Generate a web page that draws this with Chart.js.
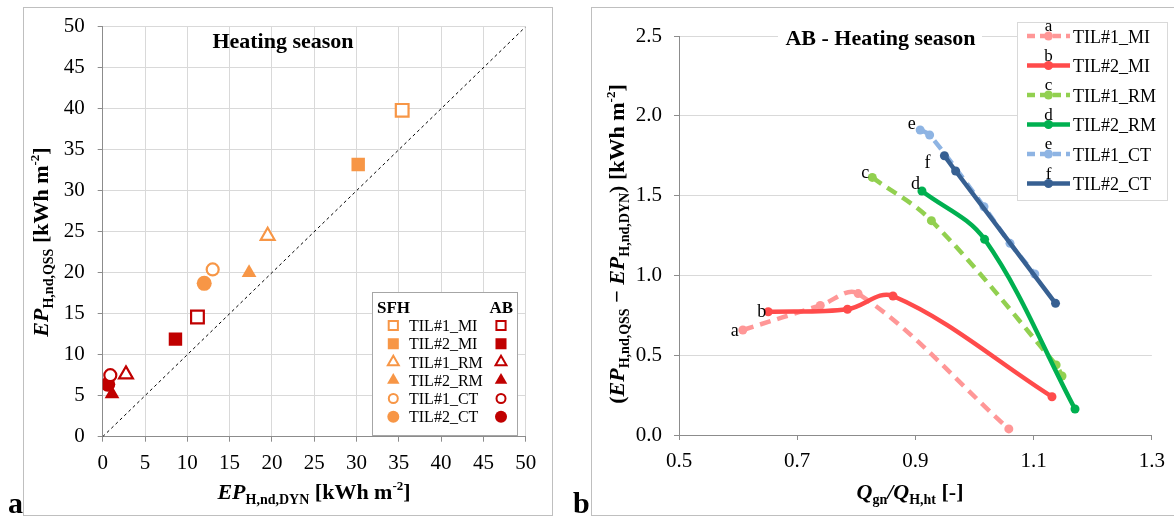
<!DOCTYPE html>
<html>
<head>
<meta charset="utf-8">
<script src="https://cdn.jsdelivr.net/npm/chart.js@4.4.1/dist/chart.umd.min.js"></script>
<style>
body{margin:0;background:#fff;width:1174px;height:517px;overflow:hidden;position:relative}
.box{position:absolute;border:1px solid #BFBFBF}
#boxA{left:23px;top:7px;width:528px;height:507px}
#boxB{left:591px;top:7px;width:600px;height:507px}
canvas{position:absolute;top:0}
#cA{left:0}
#cB{left:560px}
</style>
</head>
<body>
<div class="box" id="boxA"></div>
<div class="box" id="boxB"></div>
<canvas id="cA" width="560" height="517"></canvas>
<canvas id="cB" width="614" height="517"></canvas>
<script>
// ---- chart a : QSS vs DYN ----
var seriesNames = ['TIL#1_MI', 'TIL#2_MI', 'TIL#1_RM', 'TIL#2_RM', 'TIL#1_CT', 'TIL#2_CT'];
var sfhX = [35.4, 30.2, 19.5, 17.3, 13.0, 12.0];
var sfhY = [39.8, 33.2, 24.5, 20.0, 20.4, 18.7];
var abX = [11.2, 8.6, 2.75, 1.1, 0.9, 0.6];
var abY = [14.6, 11.9, 7.6, 5.2, 7.5, 6.4];
var diagX = [0, 50];
var diagY = [0, 50];

// ---- chart b : difference vs gain/loss ratio ----
var lineLetters = ['a', 'b', 'c', 'd', 'e', 'f'];
var tilX = [
  [0.608, 0.739, 0.803, 1.058],
  [0.651, 0.785, 0.862, 1.131],
  [0.827, 0.927, 1.138, 1.148],
  [0.911, 1.017, 1.170],
  [0.908, 0.924, 1.016, 1.060, 1.102],
  [0.949, 0.968, 1.137]
];
var tilY = [
  [0.658, 0.812, 0.886, 0.038],
  [0.772, 0.788, 0.871, 0.240],
  [1.614, 1.343, 0.439, 0.370],
  [1.529, 1.226, 0.163],
  [1.911, 1.880, 1.430, 1.201, 1.009],
  [1.750, 1.654, 0.825]
];
var xTicksB = [0.5, 0.7, 0.9, 1.1, 1.3];

var FONT = '"Liberation Serif"';
var SFH_COL = '#F79646';
var AB_COL = '#C00000';
var lineCols = ['#FF9797', '#FF4B4B', '#92D050', '#00B050', '#8EB4E3', '#376092'];
var dashed = [true, false, true, false, true, false];
var shapes = ['rect', 'rect', 'triangle', 'triangle', 'circle', 'circle'];
var filledFlags = [false, true, false, true, false, true];
var plotR = [9, 9.5, 8, 8.5, 6, 7.5];
var legR = [6.5, 7.8, 6.3, 7.2, 4.5, 6];
// label offset: [right edge dx, baseline dy] from first point
var letterOff = [[-4, 6], [-2, 5], [-3, 1], [-2, -2], [-4.5, -1], [-14, 12]];

Chart.defaults.font.family = FONT;
Chart.defaults.color = '#000';

function drawRich(ctx, parts, x, y, rot) {
  ctx.save();
  ctx.translate(x, y);
  ctx.rotate(rot);
  ctx.textAlign = 'left';
  ctx.textBaseline = 'alphabetic';
  var total = 0;
  parts.forEach(function (p) { ctx.font = p.f; p.w = ctx.measureText(p.t).width; total += p.w; });
  var cx = -total / 2;
  parts.forEach(function (p) { ctx.font = p.f; ctx.fillText(p.t, cx, p.dy || 0); cx += p.w; });
  ctx.restore();
}
var B22 = 'bold 22px ' + FONT, BI22 = 'italic bold 22px ' + FONT, B14 = 'bold 14px ' + FONT, B13 = 'bold 13px ' + FONT;
function ep(sub) { return [{t: 'EP', f: BI22}, {t: sub, f: B14, dy: 5}]; }
var unit = [{t: ' [kWh m', f: B22}, {t: '-2', f: B13, dy: -9}, {t: ']', f: B22}];

function marker(ctx, style, filled, color, x, y, r, bw) {
  ctx.beginPath();
  if (style === 'rect') {
    var s = r * Math.SQRT1_2;
    ctx.rect(x - s, y - s, 2 * s, 2 * s);
  } else if (style === 'triangle') {
    for (var k = 0; k < 3; k++) {
      var a = k * 2 * Math.PI / 3;
      if (k == 0) ctx.moveTo(x + Math.sin(a) * r, y - Math.cos(a) * r);
      else ctx.lineTo(x + Math.sin(a) * r, y - Math.cos(a) * r);
    }
    ctx.closePath();
  } else {
    ctx.arc(x, y, r, 0, 2 * Math.PI);
  }
  if (filled) { ctx.fillStyle = color; ctx.fill(); }
  else { ctx.fillStyle = '#fff'; ctx.fill(); ctx.lineWidth = bw; ctx.strokeStyle = color; ctx.stroke(); }
}

function pointDs(label, x, y, i, color) {
  var filled = filledFlags[i];
  return {
    label: label, data: [{x: x, y: y}],
    pointStyle: shapes[i], pointRadius: plotR[i], pointHoverRadius: plotR[i],
    backgroundColor: filled ? color : '#fff', borderColor: color,
    borderWidth: filled ? 0 : 2.2, showLine: false
  };
}

var dsA = [{
  label: 'diag', data: diagX.map(function (v, i) { return {x: v, y: diagY[i]}; }),
  showLine: true, borderColor: '#000', borderWidth: 1, borderDash: [3, 3], pointRadius: 0, order: 100
}];
seriesNames.forEach(function (n, i) { dsA.push(pointDs('SFH ' + n, sfhX[i], sfhY[i], i, SFH_COL)); });
seriesNames.forEach(function (n, i) { dsA.push(pointDs('AB ' + n, abX[i], abY[i], i, AB_COL)); });

var decorA = {
  id: 'decorA',
  afterDraw: function (chart) {
    var ctx = chart.ctx;
    ctx.save();
    ctx.fillStyle = '#000';
    ctx.textAlign = 'center';
    ctx.textBaseline = 'alphabetic';
    ctx.font = B22;
    ctx.fillText('Heating season', 283, 48);
    drawRich(ctx, ep('H,nd,DYN').concat(unit), 314, 499, 0);
    drawRich(ctx, ep('H,nd,QSS').concat(unit), 48, 242, -Math.PI / 2);

    // legend
    ctx.fillStyle = '#fff';
    ctx.fillRect(372.5, 292.5, 145, 143);
    ctx.strokeStyle = '#A6A6A6';
    ctx.lineWidth = 1;
    ctx.strokeRect(372.5, 292.5, 145, 143);
    ctx.fillStyle = '#000';
    ctx.font = 'bold 17px ' + FONT;
    ctx.textAlign = 'left';
    ctx.fillText('SFH', 377, 313);
    ctx.textAlign = 'right';
    ctx.fillText('AB', 513, 313);
    for (var i = 0; i < seriesNames.length; i++) {
      var y = 325.5 + i * 18.25;
      marker(ctx, shapes[i], filledFlags[i], SFH_COL, 393.3, y, legR[i], 2);
      marker(ctx, shapes[i], filledFlags[i], AB_COL, 501, y, legR[i], 2);
      ctx.fillStyle = '#000';
      ctx.font = '16px ' + FONT;
      ctx.textAlign = 'left';
      ctx.fillText(seriesNames[i], 409, y + 5.5);
    }
    ctx.font = 'bold 30px ' + FONT;
    ctx.textAlign = 'left';
    ctx.fillText('a', 8, 513);
    ctx.restore();
  }
};

new Chart(document.getElementById('cA'), {
  type: 'scatter',
  data: {datasets: dsA},
  options: {
    responsive: false, animation: false, devicePixelRatio: 1,
    layout: {padding: {top: 26.7, right: 34.3, bottom: 0, left: 0}},
    plugins: {legend: {display: false}, tooltip: {enabled: false}},
    scales: {
      x: {
        type: 'linear', min: 0, max: 50,
        ticks: {stepSize: 5, font: {size: 21}, color: '#000', padding: 9, maxRotation: 0, autoSkip: false},
        grid: {color: '#D9D9D9', tickColor: '#8C8C8C', tickLength: 5},
        border: {color: '#8C8C8C'},
        afterFit: function (s) { s.height = 80.3; }
      },
      y: {
        type: 'linear', min: 0, max: 50,
        ticks: {stepSize: 5, font: {size: 21}, color: '#000', padding: 13, autoSkip: false},
        grid: {color: '#D9D9D9', tickColor: '#8C8C8C', tickLength: 5},
        border: {color: '#8C8C8C'},
        afterFit: function (s) { s.width = 102.7; }
      }
    }
  },
  plugins: [decorA]
});

// ---- chart b ----
var dsB = seriesNames.map(function (n, i) {
  return {
    label: n,
    data: tilX[i].map(function (v, k) { return {x: v, y: tilY[i][k]}; }),
    showLine: true, tension: 0.35,
    borderColor: lineCols[i], backgroundColor: lineCols[i],
    borderWidth: 4.5, borderDash: dashed[i] ? [11, 7] : [],
    pointRadius: 4.5, pointHoverRadius: 4.5, pointBorderWidth: 0,
    order: seriesNames.length - i
  };
});

var decorB = {
  id: 'decorB',
  afterDatasetsDraw: function (chart) {
    var ctx = chart.ctx;
    ctx.save();
    ctx.fillStyle = '#000';
    ctx.font = '18px ' + FONT;
    ctx.textAlign = 'right';
    ctx.textBaseline = 'alphabetic';
    lineLetters.forEach(function (l, i) {
      var p = chart.getDatasetMeta(i).data[0];
      ctx.fillText(l, p.x + letterOff[i][0], p.y + letterOff[i][1]);
    });
    ctx.restore();
  },
  afterDraw: function (chart) {
    var ctx = chart.ctx;
    ctx.save();
    // title with white background
    ctx.fillStyle = '#fff';
    ctx.fillRect(218, 25, 204, 24);
    ctx.fillStyle = '#000';
    ctx.font = B22;
    ctx.textAlign = 'center';
    ctx.textBaseline = 'alphabetic';
    ctx.fillText('AB - Heating season', 320.5, 45);

    drawRich(ctx, [{t: '(', f: B22}].concat(ep('H,nd,QSS'), [{t: ' \u2212 ', f: B22}], ep('H,nd,DYN'), [{t: ')', f: B22}], unit), 64, 244, -Math.PI / 2);
    drawRich(ctx, [
      {t: 'Q', f: BI22}, {t: 'gn', f: B14, dy: 5}, {t: '/', f: BI22},
      {t: 'Q', f: BI22}, {t: 'H,ht', f: B14, dy: 5}, {t: ' [-]', f: B22}
    ], 350, 499, 0);

    // legend
    ctx.fillStyle = '#fff';
    ctx.fillRect(457.5, 22.5, 150, 178);
    ctx.strokeStyle = '#D9D9D9';
    ctx.lineWidth = 1;
    ctx.strokeRect(457.5, 22.5, 150, 178);
    for (var i = 0; i < seriesNames.length; i++) {
      var y = 36 + i * 29.5;
      ctx.strokeStyle = lineCols[i];
      ctx.lineWidth = 4.5;
      ctx.setLineDash(dashed[i] ? [8, 5] : []);
      ctx.beginPath();
      ctx.moveTo(467, y);
      ctx.lineTo(510, y);
      ctx.stroke();
      ctx.setLineDash([]);
      ctx.beginPath();
      ctx.arc(488.5, y, 4.5, 0, 2 * Math.PI);
      ctx.fillStyle = lineCols[i];
      ctx.fill();
      ctx.fillStyle = '#000';
      ctx.font = '18px ' + FONT;
      ctx.textAlign = 'left';
      ctx.fillText(seriesNames[i], 513, y + 6.5);
      ctx.font = '17px ' + FONT;
      ctx.textAlign = 'center';
      ctx.fillText(lineLetters[i], 488.5, y - 5);
    }
    ctx.font = 'bold 30px ' + FONT;
    ctx.textAlign = 'left';
    ctx.fillText('b', 13, 513);
    ctx.restore();
  }
};

new Chart(document.getElementById('cB'), {
  type: 'scatter',
  data: {datasets: dsB},
  options: {
    responsive: false, animation: false, devicePixelRatio: 1,
    layout: {padding: {top: 36, right: 17.5, bottom: 0, left: 0}},
    plugins: {legend: {display: false}, tooltip: {enabled: false}},
    scales: {
      x: {
        type: 'linear', min: 0.5, max: 1.3,
        afterBuildTicks: function (s) { s.ticks = xTicksB.map(function (v) { return {value: v}; }); },
        ticks: {font: {size: 21}, color: '#000', padding: 9, maxRotation: 0, autoSkip: false,
          callback: function (v) { return Number(v).toFixed(1); }},
        grid: {drawOnChartArea: false, tickColor: '#8C8C8C', tickLength: 5},
        border: {color: '#8C8C8C'},
        afterFit: function (s) { s.height = 82; }
      },
      y: {
        type: 'linear', min: 0, max: 2.5,
        ticks: {stepSize: 0.5, font: {size: 21}, color: '#000', padding: 12,
          callback: function (v) { return Number(v).toFixed(1); }},
        grid: {color: '#D9D9D9', tickColor: '#8C8C8C', tickLength: 5},
        border: {color: '#8C8C8C'},
        afterFit: function (s) { s.width = 119; }
      }
    }
  },
  plugins: [decorB]
});
</script>
</body>
</html>
